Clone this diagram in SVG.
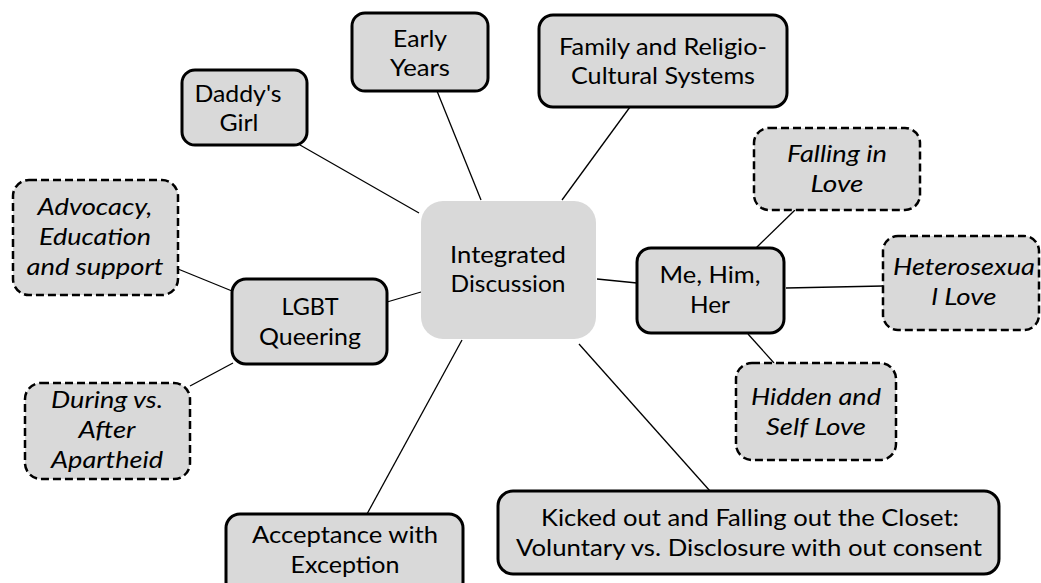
<svg xmlns="http://www.w3.org/2000/svg" width="1041" height="583" viewBox="0 0 1041 583">
  <style>
    .solid { fill: #d9d9d9; stroke: #000; stroke-width: 3; }
    .dash { fill: #d9d9d9; stroke: #000; stroke-width: 2.5; stroke-dasharray: 8 4; }
    .hub { fill: #d9d9d9; stroke: none; }
    text { font-family: Lato, "Open Sans", "Liberation Sans", sans-serif; font-size: 24px; fill: #000; text-anchor: middle; }
    .it { font-style: italic; }
    .conn line { stroke: #000; stroke-width: 1.3; }
  </style>
  <rect width="1041" height="583" fill="#fff"/>
  <g id="connectors" class="conn">
    <line x1="300" y1="145" x2="419" y2="213"/>
    <line x1="437" y1="91" x2="481" y2="200"/>
    <line x1="630" y1="107" x2="562" y2="200"/>
    <line x1="387" y1="302" x2="421" y2="292"/>
    <line x1="178" y1="269" x2="232" y2="291"/>
    <line x1="190" y1="386" x2="233" y2="363"/>
    <line x1="597" y1="279" x2="637" y2="283"/>
    <line x1="795" y1="210" x2="756" y2="248"/>
    <line x1="786" y1="288" x2="883" y2="286"/>
    <line x1="748" y1="334" x2="774" y2="363"/>
    <line x1="462" y1="340" x2="367" y2="514"/>
    <line x1="579" y1="344" x2="710" y2="491"/>
  </g>
  <g id="integrated">
    <rect class="hub" x="421" y="201" width="175" height="138" rx="22"/>
    <text x="508" y="263" textLength="116" lengthAdjust="spacingAndGlyphs">Integrated</text>
    <text x="508" y="292" textLength="115" lengthAdjust="spacingAndGlyphs">Discussion</text>
  </g>
  <g id="daddys-girl">
    <rect class="solid" x="182" y="70" width="125" height="75" rx="13"/>
    <text x="238" y="102" textLength="87" lengthAdjust="spacingAndGlyphs">Daddy's</text>
    <text x="239" y="131" textLength="39" lengthAdjust="spacingAndGlyphs">Girl</text>
  </g>
  <g id="early-years">
    <rect class="solid" x="352" y="13" width="136" height="78" rx="13"/>
    <text x="420" y="47" textLength="54" lengthAdjust="spacingAndGlyphs">Early</text>
    <text x="420" y="76" textLength="60" lengthAdjust="spacingAndGlyphs">Years</text>
  </g>
  <g id="family">
    <rect class="solid" x="539" y="15" width="248" height="92" rx="14"/>
    <text x="663" y="55" textLength="208" lengthAdjust="spacingAndGlyphs">Family and Religio-</text>
    <text x="663" y="84" textLength="184" lengthAdjust="spacingAndGlyphs">Cultural Systems</text>
  </g>
  <g id="advocacy">
    <rect class="dash" x="13" y="180" width="165" height="115" rx="16"/>
    <text class="it" x="95" y="215" textLength="115" lengthAdjust="spacingAndGlyphs">Advocacy,</text>
    <text class="it" x="95" y="245" textLength="112" lengthAdjust="spacingAndGlyphs">Education</text>
    <text class="it" x="95" y="275" textLength="137" lengthAdjust="spacingAndGlyphs">and support</text>
  </g>
  <g id="lgbt">
    <rect class="solid" x="232" y="279" width="155" height="85" rx="14"/>
    <text x="310" y="315" textLength="57" lengthAdjust="spacingAndGlyphs">LGBT</text>
    <text x="310" y="345" textLength="102" lengthAdjust="spacingAndGlyphs">Queering</text>
  </g>
  <g id="during">
    <rect class="dash" x="25" y="383" width="165" height="96" rx="16"/>
    <text class="it" x="107" y="408" textLength="112" lengthAdjust="spacingAndGlyphs">During vs.</text>
    <text class="it" x="107" y="438" textLength="57" lengthAdjust="spacingAndGlyphs">After</text>
    <text class="it" x="107" y="468" textLength="112" lengthAdjust="spacingAndGlyphs">Apartheid</text>
  </g>
  <g id="falling">
    <rect class="dash" x="754" y="128" width="166" height="82" rx="15"/>
    <text class="it" x="837" y="162" textLength="100" lengthAdjust="spacingAndGlyphs">Falling in</text>
    <text class="it" x="837" y="192" textLength="53" lengthAdjust="spacingAndGlyphs">Love</text>
  </g>
  <g id="me-him-her">
    <rect class="solid" x="637" y="248" width="147" height="85" rx="14"/>
    <text x="710" y="283" textLength="101" lengthAdjust="spacingAndGlyphs">Me, Him,</text>
    <text x="710" y="313" textLength="40" lengthAdjust="spacingAndGlyphs">Her</text>
  </g>
  <g id="heterosexual">
    <rect class="dash" x="883" y="236" width="156" height="94" rx="15"/>
    <text class="it" x="964" y="275" textLength="142" lengthAdjust="spacingAndGlyphs">Heterosexua</text>
    <text class="it" x="964" y="305" textLength="65" lengthAdjust="spacingAndGlyphs">l Love</text>
  </g>
  <g id="hidden">
    <rect class="dash" x="736" y="363" width="160" height="97" rx="16"/>
    <text class="it" x="816" y="405" textLength="130" lengthAdjust="spacingAndGlyphs">Hidden and</text>
    <text class="it" x="816" y="435" textLength="100" lengthAdjust="spacingAndGlyphs">Self Love</text>
  </g>
  <g id="acceptance">
    <rect class="solid" x="226" y="514" width="237" height="82" rx="14"/>
    <text x="345" y="543" textLength="186" lengthAdjust="spacingAndGlyphs">Acceptance with</text>
    <text x="345" y="573" textLength="109" lengthAdjust="spacingAndGlyphs">Exception</text>
  </g>
  <g id="kicked-out">
    <rect class="solid" x="498" y="491" width="501" height="83" rx="15"/>
    <text x="750" y="526" textLength="418" lengthAdjust="spacingAndGlyphs">Kicked out and Falling out the Closet:</text>
    <text x="749" y="556" textLength="466" lengthAdjust="spacingAndGlyphs">Voluntary vs. Disclosure with out consent</text>
  </g>
</svg>
